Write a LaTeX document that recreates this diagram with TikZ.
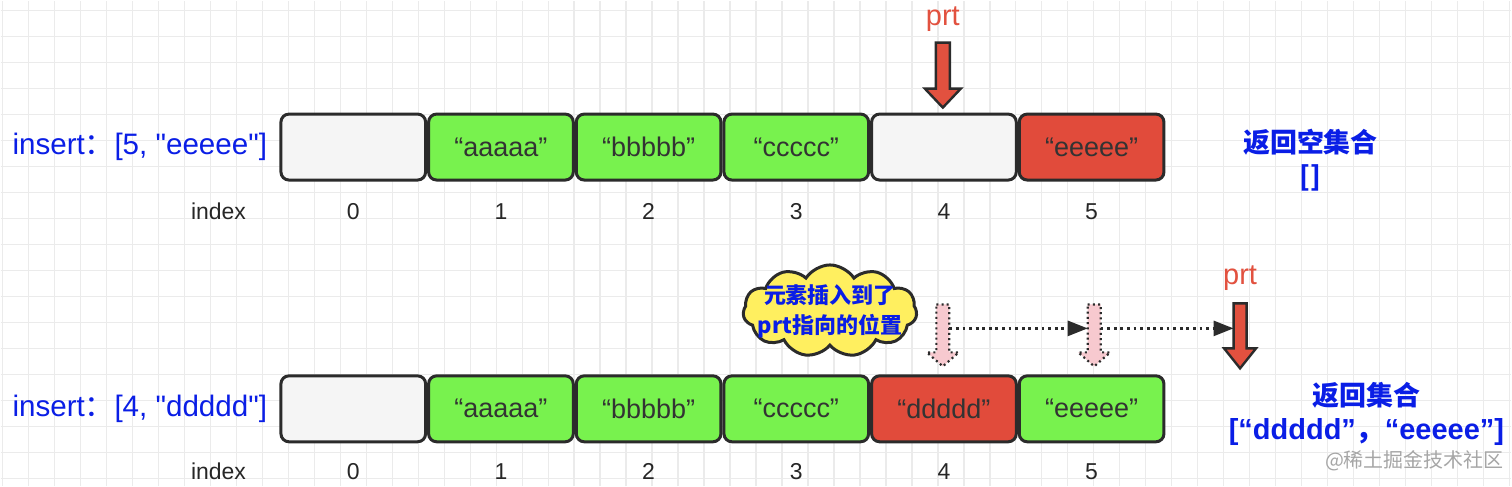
\documentclass[tikz,border=0pt]{standalone}
\usepackage{fontspec}
\setmainfont{Liberation Sans}
\newfontfamily\plainsans{Liberation Sans}
\newfontfamily\cjk{Noto Sans CJK SC}
\usepackage{tikz}
\usetikzlibrary{arrows.meta,positioning,shapes.symbols}
\definecolor{cell-grey}{HTML}{F5F5F5}
\definecolor{cell-green}{HTML}{78F24E}
\definecolor{cell-red}{HTML}{E14B3B}
\definecolor{ptr-red}{HTML}{E2513F}
\definecolor{op-blue}{HTML}{0A1EE6}
\definecolor{note-yellow}{HTML}{FFEF5F}
\definecolor{moved-pink}{HTML}{F7C9CF}
\definecolor{edge-dark}{HTML}{2B2B2B}
\tikzset{
  grid-line/.style={draw=black!8, line width=0.7pt},
  cell-box/.style={draw=edge-dark, line width=1.5pt, rounded corners=4pt,
    minimum width=72.4pt, minimum height=33pt, inner sep=0pt,
    font=\fontsize{13.5}{16}\selectfont, text=black!80},
  idx-label/.style={font=\fontsize{11.5}{14}\selectfont, text=black!85},
  op-label/.style={font=\plainsans\fontsize{14.8}{18}\selectfont, text=op-blue, inner sep=0pt},
  result-label/.style={font=\cjk\bfseries\fontsize{13.5}{17}\selectfont, text=op-blue,
    align=center, inner sep=0pt},
  ptr-label/.style={font=\fontsize{14.5}{17}\selectfont, text=ptr-red},
  ptr-shaft/.style={inner sep=0pt, outer sep=0pt},
  ptr-arrow/.style={draw=edge-dark, fill=ptr-red, line width=1.2pt},
  moved-arrow/.style={draw=edge-dark, fill=moved-pink, line width=1.1pt, dash pattern=on 1pt off 1.6pt},
  move-link/.style={draw=edge-dark, line width=1.3pt, dash pattern=on 1.4pt off 1.9pt,
    -{Triangle[length=10pt, width=7.5pt]}},
  note-cloud/.style={cloud, cloud puffs=11, cloud puff arc=115, draw=edge-dark, line width=1.5pt,
    fill=note-yellow, minimum width=87pt, minimum height=46pt, inner sep=0pt},
  note-text/.style={font=\cjk\bfseries\fontsize{11}{15}\selectfont, text=op-blue, align=center},
  watermark/.style={font=\cjk\fontsize{10}{12}\selectfont, text=black!35}
}

\begin{document}
\begin{tikzpicture}[x=0.5pt, y=0.5pt]
  % Paper grid
  \fill[white] (0,0) rectangle (1512,486);
  \draw[grid-line, shift={(2,8)}, step=13pt] (-2,-8) grid (1510,478);
  \useasboundingbox (0,0) rectangle (1512,486);

  % Row 1: insert at 5
  \node[cell-box, fill=cell-grey] (t0) at (352.9,339.5) {};
  \node[cell-box, fill=cell-green, right=0pt of t0] (t1) {“aaaaa”};
  \node[cell-box, fill=cell-green, right=0pt of t1] (t2) {“bbbbb”};
  \node[cell-box, fill=cell-green, right=0pt of t2] (t3) {“ccccc”};
  \node[cell-box, fill=cell-grey, right=0pt of t3] (t4) {};
  \node[cell-box, fill=cell-red, right=0pt of t4] (t5) {“eeeee”};
  \node[op-label, left=6pt of t0] (op1) {insert{\cjk ：}[5, "eeeee"]};
  \node[idx-label] (tidx) at (218,275) {index};
  \foreach \i in {0,...,5}
    \node[idx-label] (ti\i) at ({352.9+147.8*\i},275) {\i};

  % Pointer above slot 4
  \node[ptr-label] (prt1) at (943,468) {prt};
  \node[ptr-shaft, minimum width=7pt, minimum height=23pt] (ptrtop) at (943,421) {};
  \filldraw[ptr-arrow] (ptrtop.north west) -- (ptrtop.north east) -- (ptrtop.south east)
    -- ++(11,0) -- ++(-18,-19) -- ++(-18,19) -- ++(11,0) -- cycle;

  \node[result-label] (res1) at (1311,326.5) {返回空集合\\{[]}};

  % Row 2: insert at 4
  \node[cell-box, fill=cell-grey] (b0) at (352.9,77.5) {};
  \node[cell-box, fill=cell-green, right=0pt of b0] (b1) {“aaaaa”};
  \node[cell-box, fill=cell-green, right=0pt of b1] (b2) {“bbbbb”};
  \node[cell-box, fill=cell-green, right=0pt of b2] (b3) {“ccccc”};
  \node[cell-box, fill=cell-red, right=0pt of b3] (b4) {“ddddd”};
  \node[cell-box, fill=cell-green, right=0pt of b4] (b5) {“eeeee”};
  \node[op-label, left=6pt of b0] (op2) {insert{\cjk ：}[4, "ddddd"]};
  \node[idx-label] (bidx) at (218,15) {index};
  \foreach \i in {0,...,5}
    \node[idx-label] (bi\i) at ({352.9+147.8*\i},15) {\i};

  % Note cloud
  \node[note-cloud] (note) at (830,175.5) {};
  \node[note-text] (notetext) at (note.center) {元素插入到了\\prt指向的位置};

  % Moved elements (dotted pink arrows)
  \node[ptr-shaft, minimum width=6.5pt, minimum height=24pt] (mv4) at (943,158) {};
  \node[ptr-shaft, minimum width=6.5pt, minimum height=24pt] (mv5) at (1094.5,158) {};
  \foreach \m in {mv4,mv5}
    \filldraw[moved-arrow] (\m.north west) -- (\m.north east) -- (\m.south east)
      -- ++(9.5,0) -- ++(-16,-14) -- ++(-16,14) -- ++(9.5,0) -- cycle;

  % Pointer after the shift
  \node[ptr-label] (prt2) at (1240.5,208) {prt};
  \node[ptr-shaft, minimum width=6.5pt, minimum height=22.5pt] (ptrbot) at (1240.5,160.5) {};
  \filldraw[ptr-arrow] (ptrbot.north west) -- (ptrbot.north east) -- (ptrbot.south east)
    -- ++(9.5,0) -- ++(-16,-20) -- ++(-16,20) -- ++(9.5,0) -- cycle;

  \draw[move-link] (mv4.east) -- (mv5.west);
  \draw[move-link] (mv5.east) -- (ptrbot.west |- mv5.east);

  \node[result-label] (res2) at (1367,72.5)
    {返回集合\\{\plainsans\fontsize{14.5}{17}\selectfont[“ddddd”{\cjk ，}“eeeee”]}};

  \node[watermark] (wm) at (1415,26) {@稀土掘金技术社区};
\end{tikzpicture}
\end{document}
